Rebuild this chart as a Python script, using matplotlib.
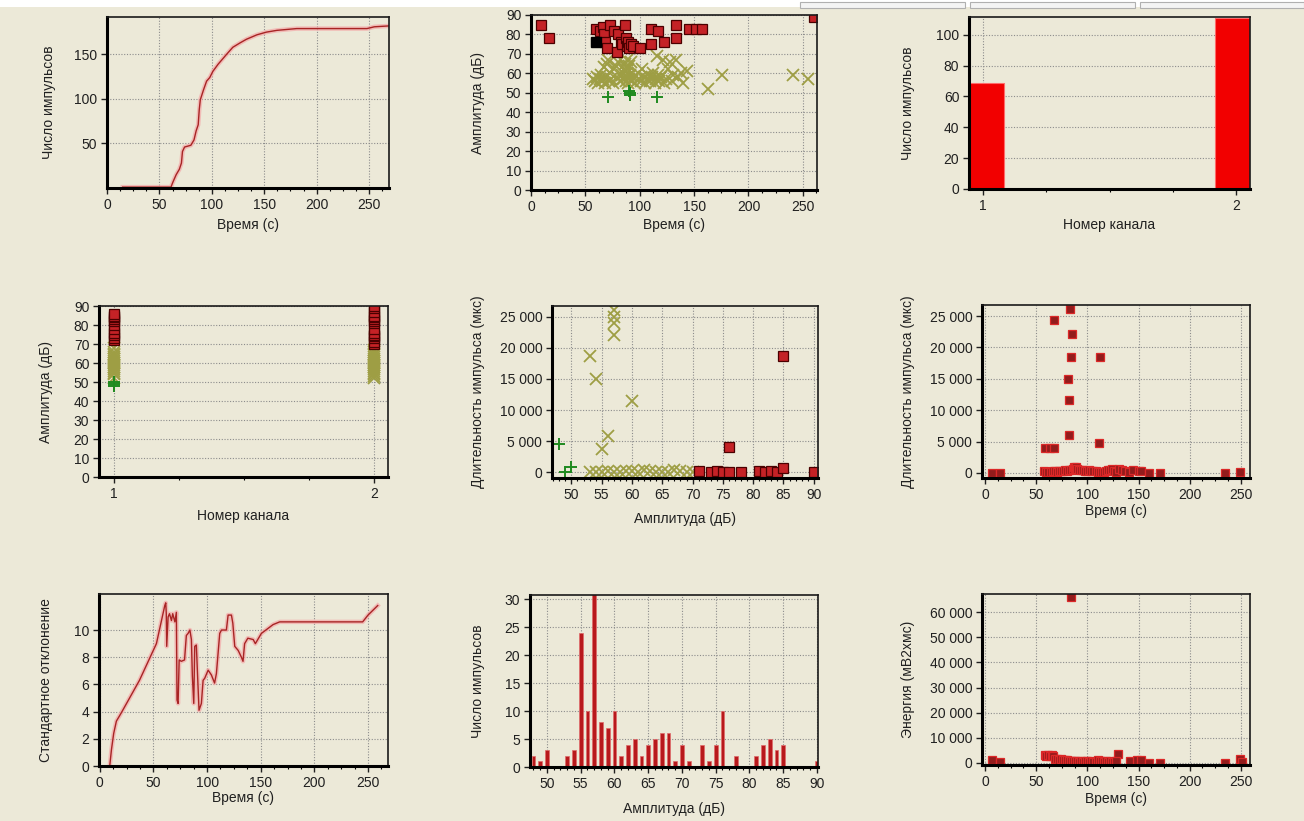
import matplotlib
matplotlib.use('Agg')
import matplotlib.pyplot as plt
from matplotlib.ticker import MultipleLocator, AutoMinorLocator, FuncFormatter, FixedLocator
from matplotlib.patches import Rectangle

plt.rcParams['font.family'] = ['Liberation Sans', 'DejaVu Sans']

W, H = 1304, 821
BG = '#ECE9D8'

# --- cumulative hit count vs time (panel 1)
cum_t = [15, 61, 63, 66, 69, 71, 72, 74, 80, 83, 85, 87, 88, 89, 92, 95, 98, 101, 106, 114,
         120, 127, 133, 143, 152, 162, 181, 248, 255, 269]
cum_n = [1, 1, 7, 15, 21, 28, 41, 46, 48, 54, 64, 71, 88, 99, 110, 120, 124, 131, 139, 150,
         158, 163, 167, 172, 175, 177, 179, 179, 181, 182]

# --- amplitude vs time (panel 2)
red_t = [9, 17, 60, 63, 66, 67, 68, 70, 73, 76, 79, 80, 83, 84, 86, 87, 88, 89, 90, 92,
         94, 100, 110, 110, 117, 122, 133, 133, 145, 152, 157, 260]
red_a = [85, 78, 83, 82, 84, 80, 76, 73, 85, 82, 71, 80, 76, 75, 85, 78, 74, 76, 73, 75,
         74, 73, 83, 75, 82, 76, 85, 78, 83, 83, 83, 89]
black_t = [60]
black_a = [76]
yel_t = [57, 59, 61, 62, 63, 64, 65, 66, 67, 68, 69, 70, 71, 72, 73, 74, 75, 76, 78, 79,
         80, 82, 84, 85, 86, 86, 87, 87, 88, 88, 88, 89, 89, 90, 90, 91, 92, 93, 95, 96,
         98, 99, 101, 102, 104, 105, 107, 108, 109, 111, 112, 114, 115, 116, 117, 118, 120, 121, 122, 124,
         126, 128, 130, 131, 133, 135, 138, 140, 143, 163, 176, 241, 255]
yel_a = [57, 56, 58, 55, 57, 59, 56, 57, 63, 55, 58, 65, 67, 56, 60, 57, 55, 62, 64, 58,
         66, 56, 59, 57, 61, 65, 63, 56, 58, 60, 67, 55, 62, 64, 57, 59, 66, 56, 58, 55,
         60, 57, 56, 62, 58, 55, 57, 59, 56, 58, 60, 55, 57, 69, 59, 56, 58, 67, 55, 57,
         62, 66, 56, 59, 67, 58, 60, 55, 61, 52, 59, 59, 57]
grn_t = [71, 90, 91, 91, 116]
grn_a = [48, 51, 50, 49, 48]

# --- hits per channel (panel 3)
channels = [1, 2]
channel_hits = [69, 111]

# --- amplitude vs channel (panel 4)
ch1_red = [72, 73, 75, 76, 78, 80, 82, 83, 84, 85, 86]
ch1_yel = [52, 54, 55, 56, 57, 58, 59, 60, 61, 62, 63, 64, 65, 66, 68]
ch1_grn = [48, 49, 50]
ch2_red = [70, 71, 73, 74, 75, 76, 78, 81, 82, 83, 84, 85, 87, 89, 90]
ch2_yel = [52, 53, 54, 55, 56, 57, 58, 59, 60, 61, 62, 63, 64, 65, 66, 67]

# --- duration vs amplitude (panel 5)
p5_yel_a = [57, 57, 57, 57, 53, 54, 60, 56, 55, 53, 54, 55, 56, 57, 58, 59, 60, 61, 62, 63,
            64, 65, 66, 67, 68, 69, 70]
p5_yel_d = [26000, 25000, 24000, 22100, 18600, 15000, 11500, 5900, 3800, 0, 100, 0, 200, 100, 0, 150, 300, 100, 400, 300,
            100, 0, 100, 350, 200, 100, 0]
p5_grn_a = [48, 49, 50]
p5_grn_d = [4500, 0, 900]
p5_red_a = [76, 85, 71, 73, 74, 75, 76, 78, 81, 82, 83, 84, 85, 90]
p5_red_d = [4000, 18600, 150, 100, 150, 0, 0, 0, 150, 50, 150, 100, 700, 100]

# --- duration vs time (panel 6)
p6_t = [83, 67, 85, 84, 112, 81, 82, 82, 111, 59, 63, 67,
        7, 15, 58, 60, 62, 64, 66, 68, 70, 72, 74, 76, 78, 80, 82, 84, 86, 87, 88, 89, 90, 92,
        94, 96, 98, 100, 102, 104, 106, 108, 110, 112, 114, 116, 118, 120, 122, 124, 126, 128,
        131, 134, 137, 141, 145, 150, 152, 160, 171, 235, 249]
p6_d = [26100, 24400, 22100, 18500, 18500, 15000, 11700, 6100, 4700, 4000, 4000, 4000,
        50, 50, 300, 100, 200, 150, 250, 300, 200, 350, 300, 250, 400, 300, 500, 400, 700, 900, 800, 900, 600, 500,
        400, 450, 300, 350, 400, 300, 250, 300, 200, 150, 100, 200, 350, 500, 400, 600, 300, 200,
        700, 400, 300, 200, 400, 350, 300, 50, 50, 50, 100]

# --- standard deviation vs time (panel 7)
std_t = [9.3, 10.9, 13, 15.5, 20, 37, 52.8, 60.6, 61.5, 62, 62.4, 63.7, 65, 66.8, 68, 70, 71.4, 72, 73, 74,
         76, 79, 80.7, 82.3, 84, 85.4, 86.3, 87.6, 88.5, 90, 90.7, 92.5, 94.7, 96.3, 97.8, 101, 104, 107, 108.7, 111.8,
         113.4, 118, 119.6, 122.7, 124, 125.8, 129, 132, 133.5, 135, 138, 143, 145, 150.6, 161.5, 167.7, 211, 245, 250, 259]
std_v = [0, 1.2, 2.4, 3.3, 3.9, 6.3, 9.0, 11.8, 12.0, 11.2, 8.8, 10.96, 11.2, 10.7, 11.2, 10.6, 11.3, 4.85, 4.6, 7.8,
         7.7, 7.8, 9.6, 9.75, 10.0, 9.3, 6.6, 4.6, 8.8, 8.9, 7.55, 4.1, 4.6, 6.3, 6.45, 7.05, 6.7, 6.1, 6.8, 9.75,
         10.0, 10.0, 11.1, 11.1, 10.5, 8.8, 8.5, 8.0, 7.7, 9.0, 9.4, 9.3, 9.0, 9.75, 10.4, 10.6, 10.6, 10.6, 11.1, 11.8]

# --- amplitude histogram (panel 8)
hist_amp = [48, 49, 50, 53, 54, 55, 56, 57, 58, 59, 60, 61, 62, 63, 64, 65, 66, 67, 68, 69,
            70, 71, 73, 74, 75, 76, 78, 81, 82, 83, 84, 85, 90]
hist_cnt = [2, 1, 3, 2, 3, 24, 10, 31, 8, 7, 10, 2, 4, 5, 2, 4, 5, 6, 6, 1,
            4, 1, 4, 1, 4, 10, 2, 2, 4, 5, 3, 4, 1]

# --- energy vs time (panel 9)
p9_t = [84, 130,
        7, 15, 59, 60, 62, 63, 65, 66, 68, 70, 72, 74, 76, 78, 80, 82, 84, 86, 88, 90, 92, 94,
        96, 98, 100, 102, 104, 106, 108, 110, 112, 114, 116, 118, 120, 122, 124, 126, 128,
        142, 149, 152, 160, 171, 235, 249, 251]
p9_e = [66300, 3500,
        1100, 400, 3000, 2700, 3100, 2500, 2900, 2600, 1500, 1600, 1200, 1400, 900, 1000, 1200, 700, 600, 700, 500, 600, 400, 500,
        400, 600, 500, 400, 500, 300, 400, 900, 700, 500, 400, 600, 300, 500, 400, 300, 500,
        800, 1000, 900, 0, 0, 0, 1300, 200]


def px_axes(fig, box):
    l, t, r, b = box
    ax = fig.add_axes([l / W, 1 - b / H, (r - l) / W, (b - t) / H])
    ax.set_facecolor(BG)
    for s in ['left', 'bottom']:
        ax.spines[s].set_linewidth(2.2)
        ax.spines[s].set_color('black')
    for s in ['top', 'right']:
        ax.spines[s].set_linewidth(1.2)
        ax.spines[s].set_color('#1a1a1a')
    ax.grid(True, which='major', color='#8c8c8c', linestyle=(0, (1, 1.5)), linewidth=0.8)
    ax.set_axisbelow(True)
    ax.tick_params(direction='out', length=4, width=1, labelsize=10, pad=3, colors='#202020')
    ax.tick_params(which='minor', length=2.5, width=0.8)
    return ax


def labels(ax, box, xlab, ylab, xl_y, yl_x):
    l, t, r, b = box
    ax.set_xlabel(xlab, fontsize=10, color='#202020')
    ax.set_ylabel(ylab, fontsize=10, color='#202020')
    ax.xaxis.set_label_coords(0.5, -(xl_y - 8 - b) / (b - t))
    ax.yaxis.set_label_coords((yl_x - 7 - l) / (r - l), 0.5)


def thousands(v, pos):
    return f"{int(round(v)):,}".replace(",", " ")


def red_squares(ax, x, y, ms=7):
    ax.plot(x, y, linestyle='none', marker='s', ms=ms, mfc='#C42226', mec='#4a0000', mew=0.9)


def yel_cross(ax, x, y):
    ax.plot(x, y, linestyle='none', marker='x', ms=8, mec='#9E9E44', mew=1.3)


def grn_plus(ax, x, y):
    ax.plot(x, y, linestyle='none', marker='+', ms=8, mec='#1F8A1F', mew=1.4)


def dark_squares(ax, x, y):
    ax.plot(x, y, linestyle='none', marker='s', ms=5.5, mfc='#921C1C', mec='#DC2828', mew=0.9)


fig = plt.figure(figsize=(W / 100, H / 100), dpi=100)
fig.patch.set_facecolor(BG)

# window top strip and tabs
fig.patches.append(Rectangle((0, 1 - 7 / H), 1, 7 / H, transform=fig.transFigure,
                             facecolor='white', edgecolor='none'))
for x0, x1 in [(800, 965), (970, 1135), (1140, 1304)]:
    fig.patches.append(Rectangle((x0 / W, 1 - 8 / H), (x1 - x0) / W, 6 / H, transform=fig.transFigure,
                                 facecolor='#f4f4f4', edgecolor='#b0b0b0', lw=0.8))

time_title = 'Время (с)'
amp_title = 'Амплитуда (дБ)'
cnt_title = 'Число импульсов'
dur_title = 'Длительность импульса (мкс)'

# Panel 1: cumulative hits
b1 = (107, 17, 389, 188)
ax = px_axes(fig, b1)
ax.plot(cum_t, cum_n, color='#F4A8A8', lw=3.2, alpha=0.7, solid_joinstyle='round')
ax.plot(cum_t, cum_n, color='#A82424', lw=1.0)
ax.set_xlim(0, 269)
ax.set_ylim(0, 192)
ax.xaxis.set_major_locator(MultipleLocator(50))
ax.xaxis.set_minor_locator(AutoMinorLocator(4))
ax.yaxis.set_major_locator(FixedLocator([50, 100, 150]))
labels(ax, b1, time_title, cnt_title, 226, 63)

# Panel 2: amplitude vs time
b2 = (531, 15, 817, 190)
ax = px_axes(fig, b2)
yel_cross(ax, yel_t, yel_a)
grn_plus(ax, grn_t, grn_a)
red_squares(ax, red_t, red_a)
ax.plot(black_t, black_a, linestyle='none', marker='s', ms=7, mfc='black', mec='black')
ax.set_xlim(0, 263)
ax.set_ylim(0, 90)
ax.xaxis.set_major_locator(MultipleLocator(50))
ax.xaxis.set_minor_locator(AutoMinorLocator(4))
ax.yaxis.set_major_locator(MultipleLocator(10))
labels(ax, b2, time_title, amp_title, 226, 492)

# Panel 3: hits per channel
b3 = (969, 17, 1250, 189)
ax = px_axes(fig, b3)
ax.bar(channels, channel_hits, width=0.17, color='#F20000', edgecolor='#FF6A6A', lw=0.8)
ax.set_xlim(0.945, 2.055)
ax.set_ylim(0, 111.5)
ax.xaxis.set_major_locator(FixedLocator(channels))
ax.xaxis.set_minor_locator(MultipleLocator(0.25))
ax.yaxis.set_major_locator(MultipleLocator(20))
labels(ax, b3, 'Номер канала', cnt_title, 226, 922)

# Panel 4: amplitude vs channel
b4 = (99, 306, 388, 477)
ax = px_axes(fig, b4)
yel_cross(ax, [1] * len(ch1_yel), ch1_yel)
yel_cross(ax, [2] * len(ch2_yel), ch2_yel)
grn_plus(ax, [1] * len(ch1_grn), ch1_grn)
red_squares(ax, [1] * len(ch1_red), ch1_red)
red_squares(ax, [2] * len(ch2_red), ch2_red)
ax.set_xlim(0.942, 2.054)
ax.set_ylim(0, 90)
ax.xaxis.set_major_locator(FixedLocator(channels))
ax.xaxis.set_minor_locator(MultipleLocator(0.25))
ax.yaxis.set_major_locator(MultipleLocator(10))
labels(ax, b4, 'Номер канала', amp_title, 517, 60)

# Panel 5: duration vs amplitude
b5 = (552, 306, 818, 478)
ax = px_axes(fig, b5)
yel_cross(ax, p5_yel_a, p5_yel_d)
grn_plus(ax, p5_grn_a, p5_grn_d)
red_squares(ax, p5_red_a, p5_red_d)
ax.set_xlim(46.8, 90.7)
ax.set_ylim(-900, 26700)
ax.xaxis.set_major_locator(MultipleLocator(5))
ax.xaxis.set_minor_locator(AutoMinorLocator(5))
ax.yaxis.set_major_locator(MultipleLocator(5000))
ax.yaxis.set_major_formatter(FuncFormatter(thousands))
labels(ax, b5, amp_title, dur_title, 520, 492)

# Panel 6: duration vs time
b6 = (982, 305, 1250, 478)
ax = px_axes(fig, b6)
dark_squares(ax, p6_t, p6_d)
ax.set_xlim(-3, 259)
ax.set_ylim(-800, 26770)
ax.xaxis.set_major_locator(MultipleLocator(50))
ax.xaxis.set_minor_locator(AutoMinorLocator(4))
ax.yaxis.set_major_locator(MultipleLocator(5000))
ax.yaxis.set_major_formatter(FuncFormatter(thousands))
labels(ax, b6, time_title, dur_title, 512, 922)

# Panel 7: standard deviation vs time
b7 = (99, 594, 388, 766)
ax = px_axes(fig, b7)
ax.plot(std_t, std_v, color='#F4A8A8', lw=3.2, alpha=0.7, solid_joinstyle='round')
ax.plot(std_t, std_v, color='#A82424', lw=1.0)
ax.set_xlim(-0.7, 268.6)
ax.set_ylim(0, 12.65)
ax.xaxis.set_major_locator(MultipleLocator(50))
ax.xaxis.set_minor_locator(AutoMinorLocator(4))
ax.yaxis.set_major_locator(FixedLocator([0, 2, 4, 6, 8, 10]))
labels(ax, b7, time_title, 'Стандартное отклонение', 799, 60)

# Panel 8: amplitude histogram
b8 = (530, 595, 818, 767)
ax = px_axes(fig, b8)
ax.bar(hist_amp, hist_cnt, width=0.55, color='#B8191C', edgecolor='#E06A6A', lw=0.5)
ax.set_xlim(47.5, 90.15)
ax.set_ylim(0, 30.8)
ax.xaxis.set_major_locator(MultipleLocator(5))
ax.xaxis.set_minor_locator(AutoMinorLocator(5))
ax.yaxis.set_major_locator(MultipleLocator(5))
labels(ax, b8, amp_title, cnt_title, 810, 492)

# Panel 9: energy vs time
b9 = (982, 594, 1250, 765)
ax = px_axes(fig, b9)
dark_squares(ax, p9_t, p9_e)
ax.set_xlim(-3, 259)
ax.set_ylim(-930, 67330)
ax.xaxis.set_major_locator(MultipleLocator(50))
ax.xaxis.set_minor_locator(AutoMinorLocator(4))
ax.yaxis.set_major_locator(MultipleLocator(10000))
ax.yaxis.set_major_formatter(FuncFormatter(thousands))
labels(ax, b9, time_title, 'Энергия (мВ2хмс)', 800, 922)

plt.savefig('out.png', dpi=100, facecolor=fig.get_facecolor())
